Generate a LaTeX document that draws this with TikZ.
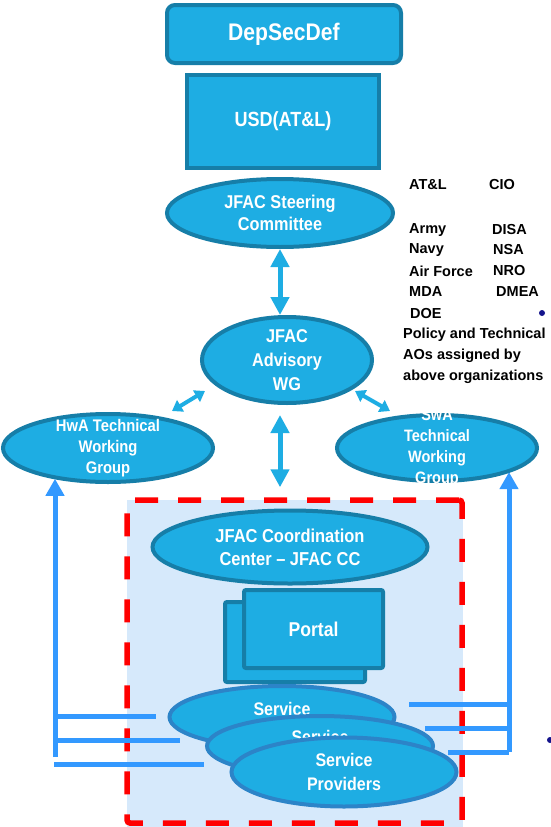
\documentclass[tikz,border=0pt]{standalone}
\usepackage{fontspec}
\setmainfont{Liberation Sans}
\newfontfamily\narrowsans{Liberation Sans}[FakeStretch=0.88]
\usetikzlibrary{shapes.geometric,arrows.meta}
\definecolor{jfacfill}{RGB}{30,173,227}
\definecolor{jfacedge}{RGB}{22,126,168}
\definecolor{spedge}{RGB}{44,132,200}
\definecolor{feedblue}{RGB}{51,153,255}
\definecolor{ccfill}{RGB}{214,233,251}
\definecolor{dotblue}{RGB}{20,20,140}

\begin{document}
\begin{tikzpicture}[x=1pt,y=-1pt,
  wt/.style 2 args={font=\narrowsans\bfseries\fontsize{#1}{#2}\selectfont, text=white, align=center, inner sep=0pt},
  box/.style={draw=jfacedge, fill=jfacfill, line width=4pt, text=white, align=center, inner sep=0pt},
  oval/.style={box, ellipse},
  spoval/.style={oval, draw=spedge},
  bigarrow/.style={draw=jfacfill, line width=5pt, {Triangle[length=18pt,width=18pt]}-{Triangle[length=18pt,width=18pt]}},
  smallarrow/.style={draw=jfacfill, line width=4pt, {Triangle[length=10pt,width=13pt]}-{Triangle[length=10pt,width=13pt]}},
  feed/.style={draw=feedblue, line width=5pt},
  orgtext/.style={font=\bfseries\fontsize{14.5}{21}\selectfont, anchor=west, inner sep=0pt}]
\useasboundingbox (0,0) rectangle (551,827);

% top of the chain
\node[box, rounded corners=8pt, minimum width=234pt, minimum height=58pt, wt={24}{28}] (depsec) at (284,34) {DepSecDef};
\node[box, minimum width=192pt, minimum height=93pt, wt={20.5}{24}] (usd) at (283,121) {USD(AT\&L)};
\node[oval, minimum width=226pt, minimum height=68pt,
  label={[wt={18.5}{22}]center:{JFAC Steering\\Committee}}] (steer) at (280,213) {};
\node[oval, minimum width=170pt, minimum height=86pt,
  label={[wt={18.5}{24}]center:{JFAC\\Advisory\\WG}}] (adv) at (287,360) {};

% working groups
\node[oval, minimum width=210pt, minimum height=68pt,
  label={[wt={16.8}{21}]center:{HwA Technical\\Working\\Group}}] (hwa) at (108,448) {};
\begin{scope}
\clip (330,411) rectangle (545,485);
\node[oval, minimum width=200pt, minimum height=66pt,
  label={[wt={16.5}{21}]center:{SwA\\Technical\\Working\\Group}}] (swa) at (437,448) {};
\end{scope}

% member organizations
\foreach \org/\x/\y [count=\i] in {AT\&L/409/185, CIO/489/185, Army/409/230, DISA/492/230,
    Navy/409/250, NSA/493/250, Air Force/409/271, NRO/493/271, MDA/409/292, DMEA/496/292, DOE/410/314}
  \node[orgtext] (org\i) at (\x,\y) {\org};
\node[orgtext, align=left, anchor=north west] (aonote) at (403,328) {Policy and Technical\\AOs assigned by\\above organizations};

% coordination center
\fill[ccfill] (127,500) rectangle (463,827);
\node[draw=red, line width=5.5pt, dash pattern=on 23pt off 20pt, rounded corners=3pt,
  minimum width=335pt, minimum height=323pt] (frame) at (294.5,661.5) {};
\node[oval, minimum width=275pt, minimum height=73pt,
  label={[wt={18.7}{23}]center:{JFAC Coordination\\Center – JFAC CC}}] (jfaccc) at (290,547) {};
\node[box, rounded corners=2pt, minimum width=140pt, minimum height=80pt] (portalback) at (295,642) {};
\node[box, rounded corners=2pt, minimum width=139pt, minimum height=78pt, wt={20}{24}] (portal) at (313.5,629) {Portal};

% feedback lines
\coordinate (lfoot) at (55,757);
\coordinate (rfoot) at (509,752);
\draw[feed, -{Triangle[length=17pt,width=18pt]}] (lfoot) -- (lfoot |- hwa.209);
\draw[feed, -{Triangle[length=17pt,width=18pt]}] (rfoot) -- (rfoot |- swa.342);
\foreach \y/\xa/\xb in {716/55/156, 740/55/180, 764/54/204}
  \draw[feed] (\xa,\y) -- (\xb,\y);
\foreach \y/\xa in {704/409, 728/425, 752/448}
  \draw[feed] (\xa,\y) -- (509,\y);

\node[spoval, minimum width=225pt, minimum height=62pt,
  label={[wt={18.2}{24}, yshift=-4pt]center:{Service\\Providers}}] (sp1) at (282,717) {};
\node[spoval, minimum width=226pt, minimum height=60pt,
  label={[wt={18.2}{24}, yshift=-3pt]center:{Service\\Providers}}] (sp2) at (320,746) {};
\node[spoval, minimum width=225pt, minimum height=69pt,
  label={[wt={18.2}{24}]center:{Service\\Providers}}] (sp3) at (344,772) {};

% arrows
\coordinate (hwaend) at (172,411);
\coordinate (advsw) at (205,391);
\coordinate (advse) at (355,391);
\coordinate (swaend) at (390,411);
\draw[bigarrow] (steer.south) -- (steer.south |- adv.north);
\draw[bigarrow, shorten <=10pt, shorten >=10pt] (adv.south -| steer.south) -- (frame.north -| steer.south);
\draw[smallarrow] (hwaend) -- (advsw);
\draw[smallarrow] (advse) -- (swaend);

\fill[dotblue] (542,313) circle (3);
\fill[dotblue] (550,740) circle (3);
\end{tikzpicture}
\end{document}
